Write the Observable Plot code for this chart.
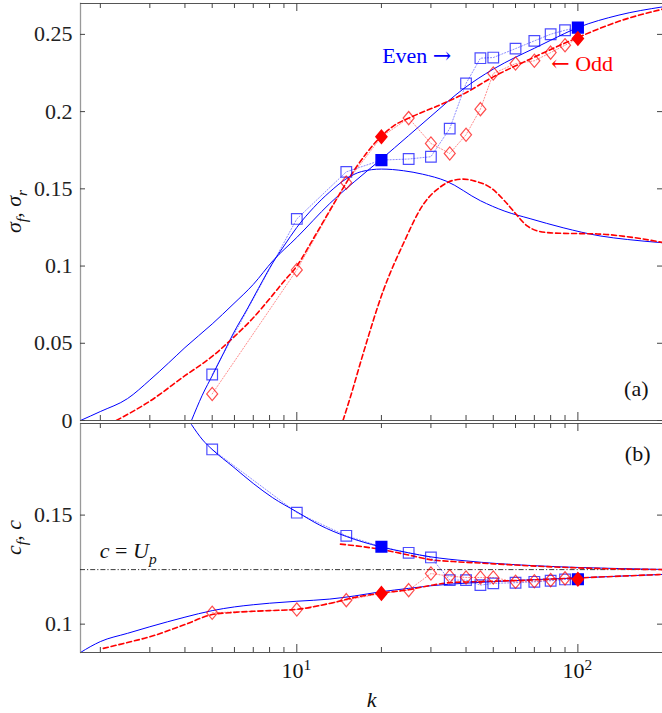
<!DOCTYPE html>
<html><head><meta charset="utf-8">
<script src="https://cdn.jsdelivr.net/npm/d3@7"></script>
<script src="https://cdn.jsdelivr.net/npm/@observablehq/plot@0.6"></script>
<style>
body{margin:0;background:#fff;}
#chart svg{display:block;}
</style></head><body><div id="chart"></div>
<script>
// ---------- data ----------
const kMarkers = [5,10,15,20,25,30,35,40,45,50,60,70,80,90,100];
const filledK = [20,100];
const evenSigma = [0.0298,0.1305,0.161,0.1686,0.1693,0.1708,0.189,0.2182,0.2346,0.235,0.2408,0.2458,0.2501,0.2527,0.2544];
const oddSigma  = [0.0172,0.0975,0.154,0.1837,0.1958,0.1794,0.1729,0.185,0.2016,0.2247,0.2311,0.2329,0.2382,0.243,0.2473];
const evenC = [0.1801,0.1511,0.1405,0.1355,0.1327,0.1306,0.1202,0.1202,0.1179,0.1187,0.119,0.1194,0.1199,0.1205,0.1206];
const oddC  = [0.1052,0.1067,0.111,0.1141,0.1156,0.1232,0.122,0.1214,0.1214,0.1214,0.1194,0.1197,0.1202,0.121,0.1206];

// growth-rate curves (panel a)
const kBlueA1 = [1.7,2,2.5,3,3.5,4,5,5.93,7,8.23,10,13.1,16,19.8,25,30,39,50,60,70,80,100,140,200];
const sBlueA1 = [0,0.0058,0.0142,0.0262,0.0373,0.0472,0.0625,0.0752,0.0881,0.1035,0.1185,0.1405,0.1545,0.1686,0.1845,0.197,0.2145,0.2275,0.2352,0.241,0.2462,0.2544,0.2625,0.2678];
const kBlueA2 = [4.22,4.6,5.04,5.5,5.93,6.7,7.3,8.23,9,10,11.5,13.1,15,17,20,24,28,34,45,55,67.6,88.6,120,150,200];
const sBlueA2 = [0,0.016,0.0302,0.044,0.056,0.073,0.0855,0.1024,0.113,0.125,0.138,0.148,0.1565,0.1612,0.1628,0.1617,0.1595,0.155,0.1423,0.1355,0.1307,0.1248,0.1195,0.1172,0.1151];
const kRedA1 = [2.28,3,4,5,5.93,7,8.23,8.94,10,11.43,13.85,16,19.8,22,25.9,32,39.1,50,67.6,100,140,200];
const sRedA1 = [0,0.0125,0.029,0.0415,0.0535,0.0665,0.0815,0.0895,0.1,0.1175,0.1434,0.162,0.1833,0.1905,0.197,0.204,0.2113,0.2225,0.234,0.248,0.2585,0.2663];
const kRedA2 = [14.6,15.5,17.2,20.3,23.9,28.2,32.3,36,39.1,43,48.7,55,60,66,71.5,80,88.6,117,150,200];
const sRedA2 = [0,0.015,0.043,0.084,0.1143,0.140,0.151,0.1555,0.1563,0.155,0.151,0.142,0.134,0.126,0.1229,0.1215,0.1212,0.1208,0.119,0.1153];

// phase-speed curves (panel b)
const kBlueB1 = [4.22,4.63,5,5.93,7,8.2,10,12.07,15,19.8,25,29.8,40,51.5,70,100,140,200];
const cBlueB1 = [0.1915,0.1844,0.1801,0.1722,0.1645,0.158,0.1515,0.1454,0.1402,0.1355,0.1327,0.1309,0.129,0.1278,0.1268,0.126,0.1255,0.1251];
const kRedB1 = [14.3,17,19.8,25,29.8,36,45,60,100,200];
const cRedB1 = [0.1367,0.1356,0.1343,0.1317,0.1296,0.1287,0.128,0.1271,0.1258,0.125];
const kBlueB2 = [1.7,1.85,2,2.5,3,4,5,6,7,8,10,13.1,16,19.8,25,30,40,50,70,100,140,200];
const cBlueB2 = [0.087,0.0898,0.092,0.0958,0.0988,0.1032,0.1062,0.1079,0.1089,0.1096,0.1105,0.1115,0.1129,0.1148,0.1164,0.1176,0.1188,0.1195,0.1204,0.1212,0.122,0.1228];
const kRedB2 = [2.05,2.5,3,4,5,6,7,8,10,13.1,16,19.8,25,30,35,45,60,100,200];
const cRedB2 = [0.0889,0.0916,0.0942,0.0998,0.1044,0.1054,0.1059,0.1062,0.1068,0.1095,0.1122,0.1142,0.1158,0.1178,0.119,0.1195,0.12,0.1212,0.1228];

const Up = 0.125;
const yTicksA = [0,0.05,0.1,0.15,0.2,0.25];
const yTicksB = [0.1,0.15];
const xMajor = [10,100];
const xMinor = [2,3,4,5,6,7,8,9,20,30,40,50,60,70,80,90];
const xTickLabels = [{k:10, base:"10", exp:"1"},{k:100, base:"10", exp:"2"}];

// ---------- helpers ----------
const zip = (ks, vs) => ks.map((k,i)=>({k, v: vs[i]}));
const font = "'Liberation Serif', 'Times New Roman', serif";
const W = 662, ML = 80, MR = 0, FW = W - ML - MR;
const BLUE = "#0000ff", RED = "#ff0000";
const diamondSym = { draw(ctx, size){ const r = Math.sqrt(size/Math.PI), h = r*1.2;
  ctx.moveTo(0,-h); ctx.lineTo(r,0); ctx.lineTo(0,h); ctx.lineTo(-r,0); ctx.closePath(); } };

function frameAndTicks(FH, yTicks){
  const ax = "#444";
  return [
    Plot.frame({anchor:"left", stroke:"#999", strokeWidth:1.3}),
    Plot.frame({anchor:"top", stroke:"#555"}),
    Plot.frame({anchor:"bottom", stroke:"#555"}),
    Plot.tickY(yTicks, {y:d=>d, insetRight:FW-5, stroke:ax}),
    Plot.tickY(yTicks, {y:d=>d, insetLeft:FW-5, stroke:ax}),
    Plot.tickX(xMinor, {x:d=>d, insetBottom:FH-5, stroke:ax}),
    Plot.tickX(xMajor, {x:d=>d, insetBottom:FH-8, stroke:ax}),
    Plot.tickX(xMinor, {x:d=>d, insetTop:FH-5, stroke:ax}),
    Plot.tickX(xMajor, {x:d=>d, insetTop:FH-8, stroke:ax}),
    Plot.axisY(yTicks, {tickSize:0, tickPadding:8, fontSize:22, tickFormat:d=>String(d), label:null, fill:"#222"})
  ];
}
function markerMarks(vals, isEven){
  const data = zip(kMarkers, vals);
  const col = isEven ? BLUE : RED;
  const sym = isEven ? "square" : diamondSym;
  const r = isEven ? 6 : 5.5;
  return [
    Plot.line(data, {x:"k", y:"v", stroke:col, strokeOpacity:0.45, strokeWidth:1, strokeDasharray:"1.2,1.8", clip:true}),
    Plot.dot(data.filter(d=>!filledK.includes(d.k)), {x:"k", y:"v", symbol:sym, r, stroke:col, strokeOpacity:0.7, strokeWidth:1.2, fill:"none"}),
    Plot.dot(data.filter(d=>filledK.includes(d.k)), {x:"k", y:"v", symbol:sym, r, stroke:col, fill:col})
  ];
}
const solid = (ks, vs) => Plot.line(zip(ks,vs), {x:"k", y:"v", stroke:BLUE, strokeWidth:1, curve:"monotone-x", clip:true});
const dashed = (ks, vs) => Plot.line(zip(ks,vs), {x:"k", y:"v", stroke:RED, strokeWidth:1.6, strokeDasharray:"5,3", curve:"monotone-x", clip:true});

function mathText(svg, x, y, parts, {size=22, anchor="start", rotate=0, fill="#111"}={}){
  const t = d3.select(svg).append("text")
    .attr("transform", `translate(${x},${y}) rotate(${rotate})`)
    .attr("text-anchor", anchor)
    .style("font-family", font).style("font-size", size+"px").style("fill", fill);
  let off = 0;
  for (const p of parts){
    const s = t.append("tspan").text(p.t);
    if (p.i) s.style("font-style","italic");
    if (p.f) s.style("font-family", p.f);
    let target = 0;
    if (p.sub){ s.style("font-size", (size*0.7)+"px"); target = size*0.28; }
    if (p.sup){ s.style("font-size", (size*0.7)+"px"); target = -size*0.38; }
    if (target !== off){ s.attr("dy", target - off); off = target; }
  }
  return t;
}

// ---------- panel (a) ----------
const HA = 422, MTA = 3, MBA = 2, FHA = HA - MTA - MBA;
const chartA = Plot.plot({
  width:W, height:HA, marginLeft:ML, marginRight:MR, marginTop:MTA, marginBottom:MBA,
  style:{background:"#fff", overflow:"visible", fontFamily:font},
  x:{type:"log", domain:[1.7,200], axis:null},
  y:{domain:[0,0.27], axis:null},
  marks:[
    ...frameAndTicks(FHA, yTicksA),
    solid(kBlueA1, sBlueA1),
    solid(kBlueA2, sBlueA2),
    dashed(kRedA1, sRedA1),
    dashed(kRedA2, sRedA2),
    ...markerMarks(evenSigma, true),
    ...markerMarks(oddSigma, false),
    Plot.text(["(a)"], {frameAnchor:"bottom-right", textAnchor:"end", lineAnchor:"bottom", dx:-14, dy:-25, fontSize:22, fill:"#111"})
  ]
});
// ---------- panel (b) ----------
const HB = 291, MTB = 1, MBB = 61, FHB = HB - MTB - MBB;
const chartB = Plot.plot({
  width:W, height:HB, marginLeft:ML, marginRight:MR, marginTop:MTB, marginBottom:MBB,
  style:{background:"#fff", overflow:"visible", fontFamily:font},
  x:{type:"log", domain:[1.7,200], axis:null},
  y:{domain:[0.087,0.192], axis:null},
  marks:[
    ...frameAndTicks(FHB, yTicksB),
    Plot.ruleY([Up], {stroke:"#222", strokeWidth:0.9, strokeDasharray:"5,2,1.2,2"}),
    solid(kBlueB1, cBlueB1),
    dashed(kRedB1, cRedB1),
    solid(kBlueB2, cBlueB2),
    dashed(kRedB2, cRedB2),
    ...markerMarks(evenC, true),
    ...markerMarks(oddC, false),
    Plot.text(["(b)"], {frameAnchor:"top-right", textAnchor:"end", lineAnchor:"bottom", dx:-12, dy:37, fontSize:22, fill:"#111"}),
    Plot.text(["k"], {frameAnchor:"bottom", lineAnchor:"bottom", dy:54, fontSize:22, fill:"#111"})
  ]
});
document.getElementById("chart").append(chartA, chartB);
for (const c of [chartA, chartB]){
  d3.select(c).style("font-family", font);
  d3.select(c).selectAll("text").style("font-family", font);
}
d3.select(chartB).selectAll("text").filter(function(){ return this.textContent === "k"; }).style("font-style","italic");

// ---------- math labels ----------
const xa = chartA.scale("x"), ya = chartA.scale("y");
const xb = chartB.scale("x"), yb = chartB.scale("y");
mathText(chartA, 21, (MTA + HA - MBA)/2, [{t:"σ",i:true},{t:"f",i:true,sub:true},{t:", "},{t:"σ",i:true},{t:"r",i:true,sub:true}], {anchor:"middle", rotate:-90});
mathText(chartB, 21, (MTB + HB - MBB)/2, [{t:"c",i:true},{t:"f",i:true,sub:true},{t:", "},{t:"c",i:true}], {anchor:"middle", rotate:-90});
mathText(chartB, xb.apply(2.0), yb.apply(0.1302), [{t:"c",i:true},{t:" = "},{t:"U",i:true},{t:"p",i:true,sub:true}]);
for (const tl of xTickLabels){
  mathText(chartB, xb.apply(tl.k), HB - MBB + 26, [{t:tl.base},{t:tl.exp,sup:true}], {anchor:"middle"});
}
mathText(chartA, xa.apply(20.2), ya.apply(0.2309), [{t:"Even "},{t:"→", f:"'DejaVu Serif'"}], {fill:BLUE});
mathText(chartA, xa.apply(80.7), ya.apply(0.2259), [{t:"←", f:"'DejaVu Serif'"},{t:" Odd"}], {fill:RED});
</script></body></html>
